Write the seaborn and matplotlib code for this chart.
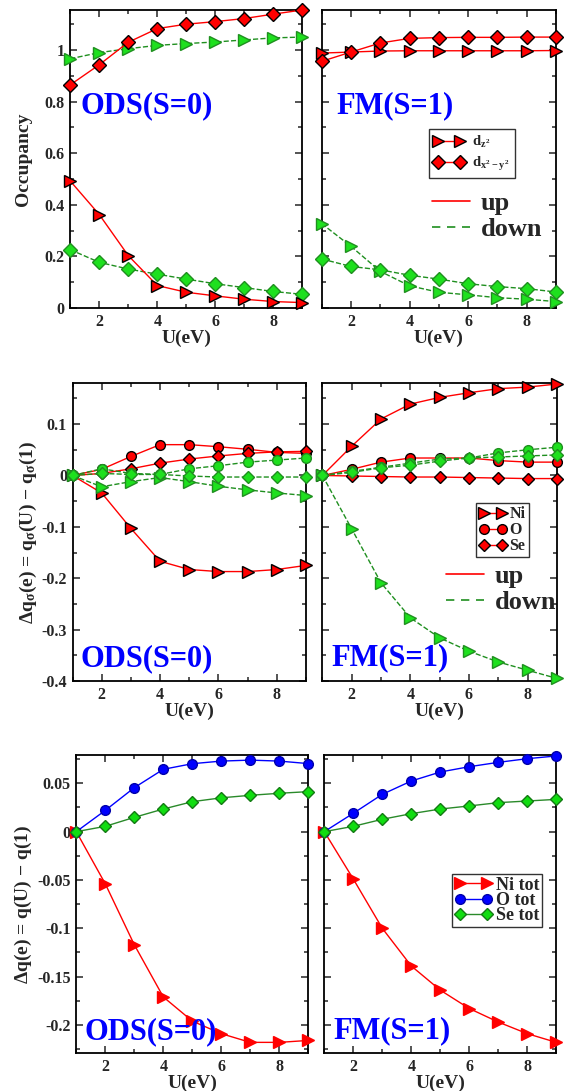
import matplotlib
matplotlib.use('Agg')
import matplotlib.pyplot as plt
import seaborn as sns
from matplotlib.lines import Line2D
from matplotlib.ticker import MultipleLocator, FuncFormatter

# data
U = [1, 2, 3, 4, 5, 6, 7, 8, 9]

# occupancy, ODS(S=0)
ods_dz2_up = [0.492, 0.362, 0.203, 0.087, 0.061, 0.047, 0.034, 0.025, 0.021]
ods_dx2_up = [0.865, 0.943, 1.030, 1.083, 1.100, 1.110, 1.122, 1.139, 1.155]
ods_dz2_dn = [0.966, 0.990, 1.005, 1.018, 1.025, 1.031, 1.039, 1.047, 1.050]
ods_dx2_dn = [0.226, 0.177, 0.151, 0.131, 0.112, 0.094, 0.079, 0.064, 0.053]
# occupancy, FM(S=1)
fm_dz2_up = [0.988, 0.992, 0.996, 0.997, 0.997, 0.997, 0.997, 0.997, 0.998]
fm_dx2_up = [0.956, 0.992, 1.027, 1.045, 1.048, 1.049, 1.049, 1.050, 1.050]
fm_dz2_dn = [0.327, 0.239, 0.142, 0.086, 0.061, 0.051, 0.040, 0.034, 0.025]
fm_dx2_dn = [0.190, 0.161, 0.148, 0.127, 0.112, 0.094, 0.083, 0.075, 0.062]

# spin resolved charge change, ODS
ods_ni_up = [0, -0.034, -0.103, -0.167, -0.183, -0.187, -0.187, -0.183, -0.175]
ods_o_up = [0, 0.012, 0.037, 0.060, 0.060, 0.056, 0.051, 0.045, 0.043]
ods_se_up = [0, 0.004, 0.013, 0.024, 0.032, 0.038, 0.043, 0.046, 0.047]
ods_ni_dn = [0, -0.022, -0.012, -0.004, -0.012, -0.021, -0.028, -0.034, -0.039]
ods_o_dn = [0, 0.013, 0.004, 0.002, 0.013, 0.019, 0.026, 0.030, 0.034]
ods_se_dn = [0, 0.004, 0.002, 0.002, -0.001, -0.003, -0.003, -0.003, -0.003]
# spin resolved charge change, FM
fm_ni_up = [0, 0.057, 0.110, 0.139, 0.152, 0.161, 0.169, 0.172, 0.178]
fm_o_up = [0, 0.012, 0.026, 0.034, 0.034, 0.034, 0.029, 0.026, 0.026]
fm_se_up = [0, -0.001, -0.002, -0.003, -0.003, -0.004, -0.005, -0.006, -0.006]
fm_ni_dn = [0, -0.104, -0.209, -0.277, -0.316, -0.342, -0.363, -0.379, -0.395]
fm_o_dn = [0, 0.008, 0.016, 0.024, 0.032, 0.034, 0.044, 0.050, 0.055]
fm_se_dn = [0, 0.006, 0.015, 0.020, 0.028, 0.034, 0.036, 0.038, 0.040]

# total charge change
ods_ni_tot = [0, -0.054, -0.117, -0.171, -0.196, -0.209, -0.218, -0.218, -0.216]
ods_o_tot = [0, 0.022, 0.0455, 0.0645, 0.0703, 0.073, 0.074, 0.073, 0.0704]
ods_se_tot = [0, 0.0055, 0.0148, 0.0234, 0.031, 0.035, 0.0376, 0.0397, 0.0414]
fm_ni_tot = [0, -0.049, -0.100, -0.139, -0.164, -0.183, -0.197, -0.209, -0.218]
fm_o_tot = [0, 0.019, 0.0386, 0.0524, 0.0617, 0.0672, 0.0717, 0.0755, 0.0783]
fm_se_tot = [0, 0.0055, 0.0128, 0.0186, 0.0234, 0.0266, 0.030, 0.0317, 0.0334]

# style
sns.set_style("ticks")
plt.rcParams['font.family'] = ['Liberation Serif', 'DejaVu Serif']
plt.rcParams['font.weight'] = 'bold'
plt.rcParams['axes.labelweight'] = 'bold'
plt.rcParams['axes.unicode_minus'] = False
plt.rcParams['mathtext.fontset'] = 'custom'
plt.rcParams['mathtext.rm'] = 'Liberation Serif:bold'
plt.rcParams['mathtext.it'] = 'Liberation Serif:bold'
plt.rcParams['mathtext.bf'] = 'Liberation Serif:bold'

RED = '#ff0000'
GLINE = '#1f8f1f'
GFACE = '#1ee01e'
BLUE = '#0000ff'

W, H = 567, 1091
fig = plt.figure(figsize=(W / 100, H / 100), dpi=100)


def fx(px):
    return px / W


def fy(py):
    return 1 - py / H


def box(l, r, t, b):
    return [l / W, 1 - b / H, (r - l) / W, (b - t) / H]


def fmt(v, pos):
    return '%g' % round(v, 6)


def setup(ax, ylim, major, minor, left_labels):
    ax.set_xlim(1, 9)
    ax.set_ylim(*ylim)
    ax.xaxis.set_major_locator(MultipleLocator(2))
    ax.xaxis.set_minor_locator(MultipleLocator(1))
    ax.yaxis.set_major_locator(MultipleLocator(major))
    ax.yaxis.set_minor_locator(MultipleLocator(minor))
    ax.yaxis.set_major_formatter(FuncFormatter(fmt))
    ax.tick_params(which='both', direction='in', top=True, right=True, width=1.1, labelsize=11.5, pad=4)
    ax.tick_params(which='major', length=5)
    ax.tick_params(which='minor', length=3)
    if not left_labels:
        ax.tick_params(labelleft=False)
    for s in ax.spines.values():
        s.set_linewidth(1.3)
        s.set_color('black')
    ax.set_xlabel('U(eV)', fontsize=14, labelpad=0)


def draw(ax, y, color, marker, ls, face, edge, ms, z):
    sns.lineplot(x=U, y=y, ax=ax, color=color, linestyle=ls, linewidth=1.0,
                 marker=marker, markersize=ms, markerfacecolor=face,
                 markeredgecolor=edge, markeredgewidth=1.0, errorbar=None,
                 clip_on=False, zorder=z, legend=False)


# row 1: occupancy
ax1 = fig.add_axes(box(70.3, 302.3, 10, 308))
ax2 = fig.add_axes(box(321.7, 556, 10, 308))
for ax, dz_up, dx_up, dz_dn, dx_dn in [(ax1, ods_dz2_up, ods_dx2_up, ods_dz2_dn, ods_dx2_dn),
                                       (ax2, fm_dz2_up, fm_dx2_up, fm_dz2_dn, fm_dx2_dn)]:
    draw(ax, dz_dn, GLINE, '>', '--', GFACE, GLINE, 8, 3)
    draw(ax, dx_dn, GLINE, 'D', '--', GFACE, GLINE, 7, 3)
    draw(ax, dz_up, RED, '>', '-', RED, 'black', 8, 4)
    draw(ax, dx_up, RED, 'D', '-', RED, 'black', 7, 4)
setup(ax1, (0, 1.155), 0.2, 0.1, True)
setup(ax2, (0, 1.155), 0.2, 0.1, False)
ax1.set_ylabel('Occupancy', fontsize=14, labelpad=9)

# row 2: spin resolved charge transfer
ax3 = fig.add_axes(box(72.5, 306, 383, 681))
ax4 = fig.add_axes(box(322.4, 556.9, 383, 681))
for ax, s in [(ax3, [ods_ni_up, ods_o_up, ods_se_up, ods_ni_dn, ods_o_dn, ods_se_dn]),
              (ax4, [fm_ni_up, fm_o_up, fm_se_up, fm_ni_dn, fm_o_dn, fm_se_dn])]:
    draw(ax, s[0], RED, '>', '-', RED, 'black', 8, 3)
    draw(ax, s[1], RED, 'o', '-', RED, 'black', 7, 3)
    draw(ax, s[2], RED, 'D', '-', RED, 'black', 6.5, 3)
    draw(ax, s[3], GLINE, '>', '--', GFACE, GLINE, 8, 4)
    draw(ax, s[4], GLINE, 'o', '--', GFACE, GLINE, 7, 4)
    draw(ax, s[5], GLINE, 'D', '--', GFACE, GLINE, 6.5, 4)
setup(ax3, (-0.4, 0.18), 0.1, 0.05, True)
setup(ax4, (-0.4, 0.18), 0.1, 0.05, False)
ax3.set_ylabel(r'$\Delta$q$_\sigma$(e) = q$_\sigma$(U) $-$ q$_\sigma$(1)', fontsize=14, labelpad=2)

# row 3: total charge transfer
ax5 = fig.add_axes(box(76.3, 308.3, 755, 1053))
ax6 = fig.add_axes(box(324.3, 556.3, 755, 1053))
for ax, ni, o, se in [(ax5, ods_ni_tot, ods_o_tot, ods_se_tot),
                      (ax6, fm_ni_tot, fm_o_tot, fm_se_tot)]:
    draw(ax, ni, RED, '>', '-', RED, RED, 8, 3)
    draw(ax, o, BLUE, 'o', '-', BLUE, '#0000aa', 7, 3)
    draw(ax, se, '#2a8a2a', 'D', '-', '#11dd11', '#137a13', 6.5, 4)
setup(ax5, (-0.229, 0.0793), 0.05, 0.025, True)
setup(ax6, (-0.229, 0.0793), 0.05, 0.025, False)
ax5.set_ylabel(r'$\Delta$q(e) = q(U) $-$ q(1)', fontsize=14, labelpad=2)

# panel tags
for x, y, t in [(80, 106, 'ODS(S=0)'), (336, 106, 'FM(S=1)'),
                (81, 659, 'ODS(S=0)'), (331, 658, 'FM(S=1)'),
                (84, 1032, 'ODS(S=0)'), (333, 1031, 'FM(S=1)')]:
    fig.text(fx(x), fy(y), t, color=BLUE, fontsize=22, fontweight='bold', ha='left', va='center')

# legends
def mk(marker, face, edge, ms, color=RED):
    return Line2D([], [], color=color, linewidth=1.0, marker=marker, markersize=ms,
                  markerfacecolor=face, markeredgecolor=edge, markeredgewidth=1.0)


spin_handles = [Line2D([], [], color=RED, linewidth=1.2),
                Line2D([], [], color=GLINE, linewidth=1.2, linestyle=(0, (5, 4)))]

leg = ax2.legend([mk('>', RED, 'black', 8), mk('D', RED, 'black', 7)],
                 [r'd$_{z^2}$', r'd$_{x^2-y^2}$'],
                 loc='upper left', bbox_to_anchor=(fx(429), fy(129)), bbox_transform=fig.transFigure,
                 borderaxespad=0, numpoints=2, handlelength=2.1, fontsize=10.5, fancybox=False,
                 edgecolor='#333333', framealpha=1, borderpad=0.35, labelspacing=0.35, handletextpad=0.5)
leg.get_frame().set_linewidth(1.0)
ax2.add_artist(leg)
ax2.legend(spin_handles, ['up', 'down'], loc='upper left', bbox_to_anchor=(fx(432), fy(192)),
           bbox_transform=fig.transFigure, borderaxespad=0, borderpad=0, frameon=False,
           handlelength=1.45, fontsize=19, labelspacing=0.08, handletextpad=0.4)

leg = ax4.legend([mk('>', RED, 'black', 8), mk('o', RED, 'black', 7), mk('D', RED, 'black', 6.5)],
                 ['Ni', 'O', 'Se'],
                 loc='upper left', bbox_to_anchor=(fx(476), fy(503)), bbox_transform=fig.transFigure,
                 borderaxespad=0, numpoints=2, handlelength=1.7, fontsize=11.5, fancybox=False,
                 edgecolor='#333333', framealpha=1, borderpad=0.2, labelspacing=0.0, handletextpad=0.2)
leg.get_frame().set_linewidth(1.0)
ax4.add_artist(leg)
ax4.legend(spin_handles, ['up', 'down'], loc='upper left', bbox_to_anchor=(fx(446), fy(565)),
           bbox_transform=fig.transFigure, borderaxespad=0, borderpad=0, frameon=False,
           handlelength=1.45, fontsize=19, labelspacing=0.08, handletextpad=0.4)

leg = ax6.legend([mk('>', RED, RED, 8), mk('o', BLUE, '#0000aa', 7, BLUE), mk('D', '#11dd11', '#137a13', 6.5, '#2a8a2a')],
                 ['Ni tot', 'O tot', 'Se tot'],
                 loc='upper left', bbox_to_anchor=(fx(452), fy(874)), bbox_transform=fig.transFigure,
                 borderaxespad=0, numpoints=2, handlelength=2.1, fontsize=13, fancybox=False,
                 edgecolor='#333333', framealpha=1, borderpad=0.15, labelspacing=-0.1, handletextpad=0.2)
leg.get_frame().set_linewidth(1.0)

fig.savefig('out.png', dpi=100)
